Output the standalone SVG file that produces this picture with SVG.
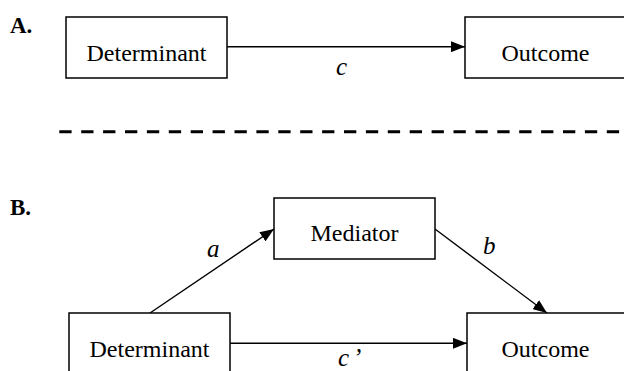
<svg xmlns="http://www.w3.org/2000/svg" width="624" height="371" viewBox="0 0 624 371">
<defs>
<style>
.box{fill:#fff;stroke:#000;stroke-width:1.5}
.lbl{font-family:"Liberation Serif","Times New Roman",serif;font-size:24px;fill:#000;text-anchor:middle}
.it{font-family:"Liberation Serif","Times New Roman",serif;font-size:25px;font-style:italic;fill:#000}
.hd{font-family:"Liberation Serif","Times New Roman",serif;font-size:23px;font-weight:bold;fill:#000}
.edge{stroke:#000;stroke-width:1.4;fill:none;marker-end:url(#ah)}
</style>
<marker id="ah" markerWidth="14" markerHeight="11" refX="14" refY="5.5" orient="auto" markerUnits="userSpaceOnUse">
<path d="M0,0 L14,5.5 L0,11 Z" fill="#000"/>
</marker>
</defs>
<rect width="624" height="371" fill="#fff"/>
<text class="hd" x="10" y="33">A.</text>
<text class="hd" x="10" y="215">B.</text>
<g id="connectors">
<line class="edge" x1="227" y1="46.7" x2="465" y2="46.7"/>
<line class="edge" x1="150" y1="313" x2="274" y2="229"/>
<line class="edge" x1="435" y1="229" x2="547" y2="313"/>
<line class="edge" x1="230" y1="343.3" x2="467" y2="343.3"/>
<text class="it" x="336" y="75">c</text>
<text class="it" x="207" y="257">a</text>
<text class="it" x="483" y="254">b</text>
<text class="it" x="338" y="366">c<tspan dx="4">’</tspan></text>
</g>
<line id="divider" x1="59.3" y1="131.7" x2="621" y2="131.7" stroke="#000" stroke-width="3" stroke-dasharray="12.3 9.6"/>
<g id="determinantA">
<rect class="box" x="66" y="17" width="161" height="61"/>
<text class="lbl" x="146.5" y="61">Determinant</text>
</g>
<g id="outcomeA">
<rect class="box" x="465" y="17" width="170" height="61"/>
<text class="lbl" x="545.5" y="61">Outcome</text>
</g>
<g id="mediator">
<rect class="box" x="274" y="198" width="161" height="61"/>
<text class="lbl" x="354.5" y="241">Mediator</text>
</g>
<g id="determinantB">
<rect class="box" x="69" y="313" width="161" height="70"/>
<text class="lbl" x="149.5" y="357">Determinant</text>
</g>
<g id="outcomeB">
<rect class="box" x="467" y="313" width="170" height="70"/>
<text class="lbl" x="545.5" y="357">Outcome</text>
</g>
</svg>
